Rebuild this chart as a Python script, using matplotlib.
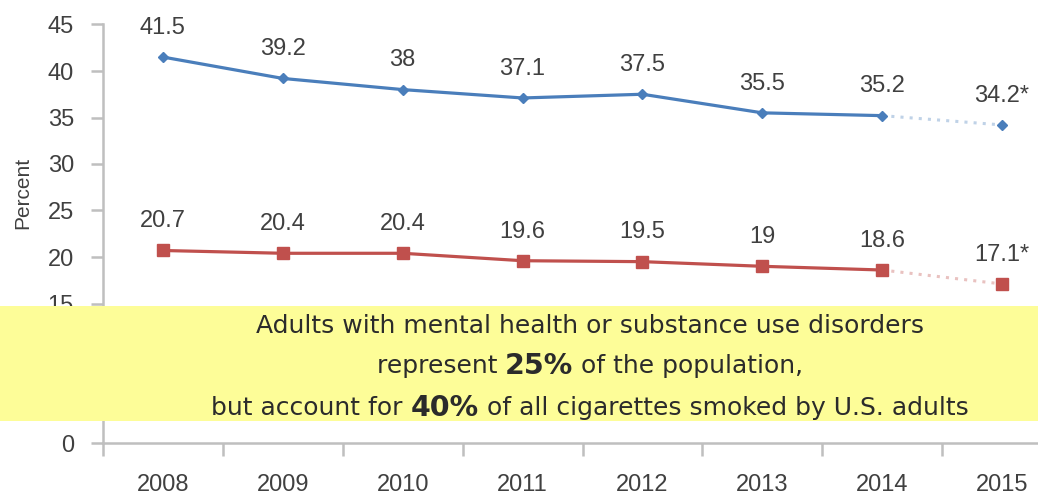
import matplotlib
matplotlib.use("Agg")
import matplotlib.pyplot as plt
from matplotlib.patches import Rectangle
from matplotlib.ticker import FixedLocator

years = ["2008", "2009", "2010", "2011", "2012", "2013", "2014", "2015"]
with_disorder = [41.5, 39.2, 38, 37.1, 37.5, 35.5, 35.2, 34.2]
without_disorder = [20.7, 20.4, 20.4, 19.6, 19.5, 19, 18.6, 17.1]
label_suffix = ["", "", "", "", "", "", "", "*"]
y_ticks = [0, 5, 10, 15, 20, 25, 30, 35, 40, 45]

callout_lines = [
    [("Adults with mental health or substance use disorders", False)],
    [("represent ", False), ("25%", True), (" of the population,", False)],
    [("but account for ", False), ("40%", True), (" of all cigarettes smoked by U.S. adults", False)],
]

blue = "#4A7EBB"
red = "#C0504D"
grey = "#BFBFBF"
txt = "#404040"

plt.rcParams['font.family'] = ['Liberation Sans', 'DejaVu Sans']

W, H = 1038, 495
fig = plt.figure(figsize=(W/100, H/100), dpi=100)
ax = fig.add_axes([103/W, 52/H, (1062-103)/W, (443-24.5)/H])

x = list(range(len(years)))
n = len(years)

for vals, col, mk, ms in [(with_disorder, blue, "D", 5.5), (without_disorder, red, "s", 8)]:
    ax.plot(x[:n-1], vals[:n-1], color=col, lw=2.3, marker=mk, ms=ms, zorder=3)
    ax.plot(x[n-2:], vals[n-2:], color=col, lw=2.2, ls=(0, (1, 2)), alpha=0.35, zorder=2)
    ax.plot(x[n-1:], vals[n-1:], color=col, lw=0, marker=mk, ms=ms, zorder=3)
    for xi, v, s in zip(x, vals, label_suffix):
        ax.annotate(f"{v:g}{s}", (xi, v), xytext=(0, 21), textcoords="offset points",
                    ha="center", va="center", fontsize=17, color=txt)

ax.set_xlim(-0.5, n - 0.5)
ax.set_ylim(0, 45)
ax.set_yticks(y_ticks)
ax.set_yticklabels([str(t) for t in y_ticks])
ax.set_xticks(x)
ax.set_xticklabels(years)
ax.xaxis.set_minor_locator(FixedLocator([i - 0.5 for i in range(n + 1)]))

for sp in ["top", "right"]:
    ax.spines[sp].set_visible(False)
for sp in ["left", "bottom"]:
    ax.spines[sp].set_color(grey)
    ax.spines[sp].set_linewidth(1.8)

ax.tick_params(axis="y", length=9, width=1.8, color=grey, labelsize=17,
               labelcolor=txt, pad=12)
ax.tick_params(axis="x", which="major", length=0, labelsize=17, labelcolor=txt, pad=22)
ax.tick_params(axis="x", which="minor", length=9, width=1.8, color=grey)

fig.text(23/W, (H-193)/H, "Percent", rotation=90, ha="center", va="center",
         fontsize=15, color=txt)

rect = Rectangle((0, (H-421)/H), 1, (421-306)/H, transform=fig.transFigure,
                 facecolor="#FDFD98", edgecolor="none", zorder=10)
fig.add_artist(rect)

# callout text, built from pieces so the bold percentages can be larger
renderer = fig.canvas.get_renderer()
cx = 590
line_y = [326, 366, 408]
for pieces, ly in zip(callout_lines, line_y):
    arts = []
    for s, bold in pieces:
        t = fig.text(0, (H-ly)/H, s, ha="left", va="center",
                     fontsize=20.5 if bold else 18,
                     fontweight="bold" if bold else "normal",
                     color="#2B2B2B", zorder=11, family=['DejaVu Sans'])
        arts.append(t)
    widths = [t.get_window_extent(renderer).width for t in arts]
    total = sum(widths)
    xpos = cx - total/2
    for t, w in zip(arts, widths):
        t.set_x(xpos/W)
        xpos += w

fig.savefig("out.png", dpi=100)
